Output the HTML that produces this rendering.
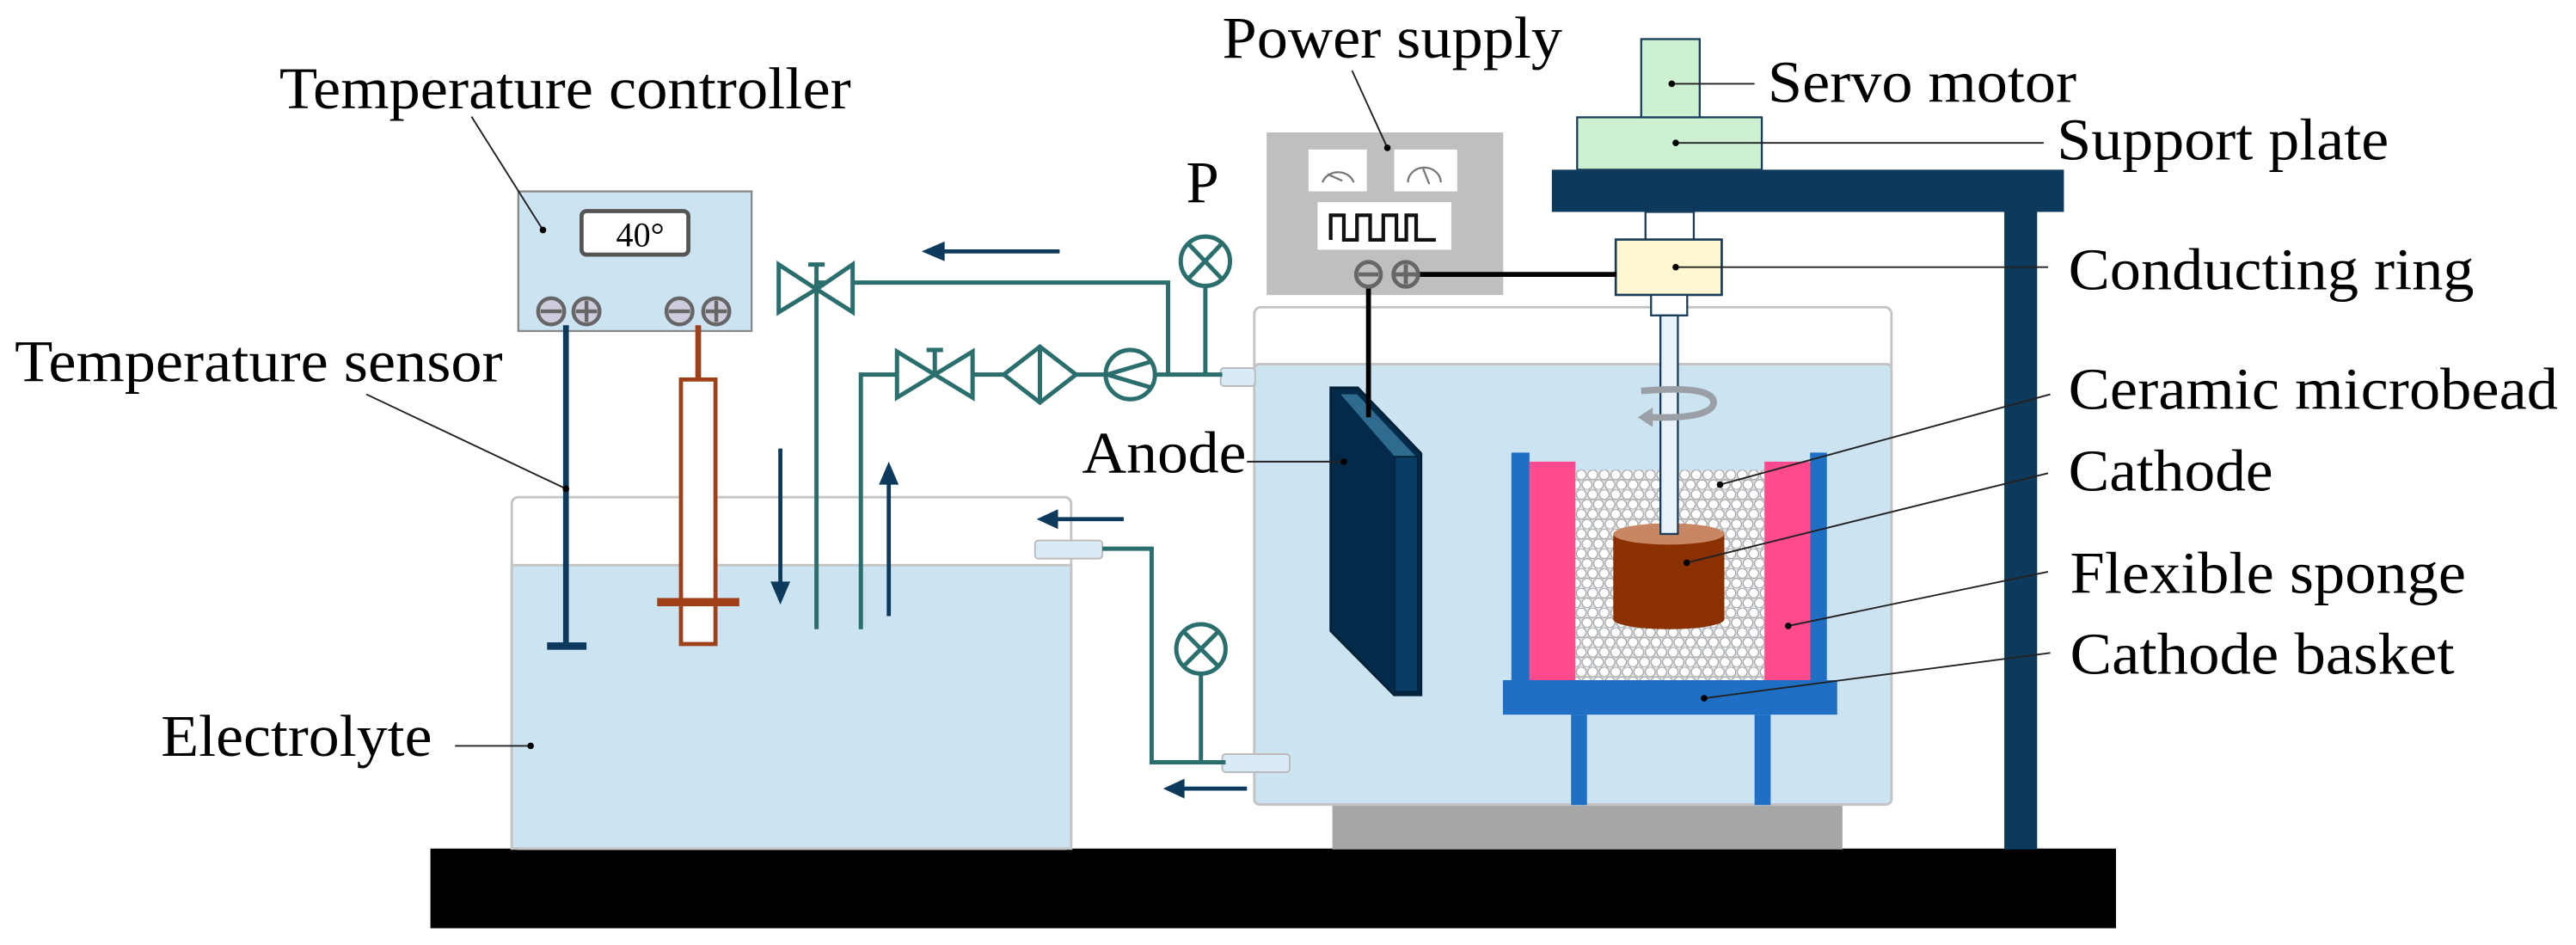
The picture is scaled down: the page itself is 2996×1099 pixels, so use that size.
<!DOCTYPE html>
<html><head><meta charset="utf-8"><style>
html,body{margin:0;padding:0;background:#fff;}
svg{display:block;}
text{font-family:"Liberation Serif",serif;font-size:36px;fill:#000;}
</style></head><body>
<svg width="2996" height="1099" viewBox="0 0 1568 575.2" preserveAspectRatio="none" xmlns="http://www.w3.org/2000/svg">
<defs>
<pattern id="beads" width="7" height="12" patternUnits="userSpaceOnUse" x="959" y="286">
<rect width="7" height="12" fill="#dfe6ec"/>
<circle cx="3.5" cy="3" r="3" fill="#fff" stroke="#a0a0a0" stroke-width="0.6"/>
<circle cx="0" cy="9" r="3" fill="#fff" stroke="#a0a0a0" stroke-width="0.6"/>
<circle cx="7" cy="9" r="3" fill="#fff" stroke="#a0a0a0" stroke-width="0.6"/>
</pattern>
</defs>
<rect x="262" y="516.5" width="1026" height="48.5" fill="#000"/>
<rect x="311.5" y="302.6" width="340.5" height="214" rx="4" fill="#fff" stroke="#c4c4c4" stroke-width="1.5"/>
<rect x="311.5" y="344" width="340.5" height="172.5" fill="#cce3f2" stroke="#c4c4c4" stroke-width="1.5"/>
<rect x="811" y="489" width="310.5" height="28" fill="#a6a6a6"/>
<rect x="763.5" y="187" width="387.8" height="302.7" rx="4" fill="#fff" stroke="#c4c4c4" stroke-width="1.5"/>
<rect x="763.5" y="221.6" width="387.8" height="268" rx="3" fill="#cce3f2" stroke="#c4c4c4" stroke-width="1.5"/>
<rect x="743" y="224" width="21" height="11" rx="2" fill="#d8ebf6" stroke="#bbb" stroke-width="1"/>
<rect x="744" y="459" width="41" height="11" rx="2" fill="#d8ebf6" stroke="#bbb" stroke-width="1"/>
<rect x="630" y="329" width="41" height="11" rx="2" fill="#d8ebf6" stroke="#bbb" stroke-width="1"/>
<rect x="1220" y="120" width="20" height="397" fill="#0d3a5c"/>
<rect x="944.6" y="103.3" width="311.7" height="25.7" fill="#0d3a5c"/>
<rect x="960" y="71.4" width="112.4" height="31.9" fill="#ccf0d0" stroke="#1a3d5c" stroke-width="1.2"/>
<rect x="999" y="23.8" width="35.6" height="47.6" fill="#ccf0d0" stroke="#1a3d5c" stroke-width="1.2"/>
<rect x="1001.6" y="129" width="29.4" height="17" fill="#fff" stroke="#1a3d5c" stroke-width="1.2"/>
<rect x="983.5" y="145.8" width="64.5" height="33.7" fill="#fff6d2" stroke="#1a3d5c" stroke-width="1.4"/>
<rect x="1005" y="179.5" width="22" height="12.5" fill="#fff" stroke="#1a3d5c" stroke-width="1.2"/>
<rect x="771" y="80.6" width="144" height="99" fill="#bfbfbf"/>
<rect x="796.5" y="91" width="35.5" height="25.5" fill="#fff"/>
<rect x="848.7" y="91" width="38.3" height="25.5" fill="#fff"/>
<path d="M805 111 A10 9 0 0 1 824 111 M808 106 L817 110" stroke="#777" stroke-width="1.2" fill="none"/>
<path d="M857 111 A10 9 0 0 1 877 111 M866 102 L870 112" stroke="#777" stroke-width="1.2" fill="none"/>
<rect x="802" y="123" width="81.4" height="29" fill="#fff"/>
<path d="M810 146 V131 H818 V146 H826 V131 H834 V146 H842 V131 H850 V146 H856 V131 H862 V146 H874" stroke="#111" stroke-width="2.2" fill="none"/>
<line x1="862" y1="167" x2="984" y2="167" stroke="#000" stroke-width="3"/>
<line x1="833" y1="170" x2="833" y2="254" stroke="#000" stroke-width="3"/>
<circle cx="833" cy="167" r="7.5" fill="#bfbfbf" stroke="#666" stroke-width="2.5"/>
<line x1="827" y1="167" x2="839" y2="167" stroke="#666" stroke-width="2.5"/>
<circle cx="855.7" cy="167" r="7.5" fill="#bfbfbf" stroke="#666" stroke-width="2.5"/>
<path d="M849.5 167 H862 M855.7 161 V173" stroke="#666" stroke-width="2.5"/>
<polygon points="810,236 826.5,236 865,276 865,423 848.6,423 810,384" fill="#032a48" stroke="#02223a" stroke-width="1.5"/>
<polygon points="816,240 826,240 862,278 849,278" fill="#2f6a8f"/>
<rect x="849" y="278" width="14" height="143" fill="#0a3d66" stroke="#02223a" stroke-width="1"/>
<line x1="833" y1="236" x2="833" y2="254" stroke="#000" stroke-width="3"/>
<rect x="920" y="275.5" width="11" height="140" fill="#1f6fc5"/>
<rect x="1101.8" y="275.5" width="10.2" height="140" fill="#1f6fc5"/>
<rect x="931" y="281" width="28" height="134" fill="#ff4a8d"/>
<rect x="1074" y="281" width="28" height="134" fill="#ff4a8d"/>
<rect x="959" y="286" width="115" height="129" fill="url(#beads)"/>
<rect x="914.8" y="414" width="203.5" height="21" fill="#1f6fc5"/>
<rect x="956.3" y="435" width="9.7" height="55" fill="#1f6fc5"/>
<rect x="1068" y="435" width="9.8" height="55" fill="#1f6fc5"/>
<path d="M982 325 V377 A33.8 6 0 0 0 1049.6 377 V325 Z" fill="#8b3000"/>
<ellipse cx="1015.8" cy="325" rx="33.8" ry="6.5" fill="#c98662"/>
<rect x="1010.7" y="192" width="10.6" height="133" fill="#e8f2f8" stroke="#1a3d5c" stroke-width="1.2"/>
<path d="M999 238 Q1045 234 1043 246 Q1040 255 1005 254" stroke="#9aa0a6" stroke-width="4" fill="none"/>
<polygon points="997,254 1006,248 1006,260" fill="#9aa0a6"/>
<rect x="315.5" y="116.5" width="142" height="85" fill="#cce3f2" stroke="#888" stroke-width="1.2"/>
<rect x="354" y="128.5" width="65" height="26.5" rx="3" fill="#fff" stroke="#555" stroke-width="2.5"/>
<text x="375" y="150" style="font-size:21px">40°</text>
<g stroke="#666" stroke-width="2.3" fill="#ccd">
<circle cx="335.5" cy="189.5" r="8"/><circle cx="357" cy="189.5" r="8"/>
<circle cx="413.6" cy="189.5" r="8"/><circle cx="436" cy="189.5" r="8"/>
</g>
<path d="M329 189.5 H342 M407 189.5 H420 M350.5 189.5 H363.5 M357 183 V196 M429.5 189.5 H442.5 M436 183 V196" stroke="#666" stroke-width="2.3"/>
<line x1="344.5" y1="198" x2="344.5" y2="393" stroke="#0d3a5c" stroke-width="3.5"/>
<rect x="333" y="391" width="24" height="4.5" fill="#0d3a5c"/>
<line x1="425" y1="198" x2="425" y2="231" stroke="#a0401a" stroke-width="3.5"/>
<rect x="414.5" y="231" width="21" height="161" fill="#fff" stroke="#a0401a" stroke-width="2.5"/>
<rect x="400" y="364" width="50" height="5" fill="#a0401a"/>
<g stroke="#0d3a5c" stroke-width="2.5" fill="#0d3a5c">
<line x1="475" y1="273" x2="475" y2="357"/><polygon points="469,354 481,354 475,368" stroke="none"/>
<line x1="541" y1="375" x2="541" y2="292"/><polygon points="535,295 547,295 541,281" stroke="none"/>
<line x1="645" y1="153" x2="572" y2="153"/><polygon points="575,147 575,159 561,153" stroke="none"/>
<line x1="684" y1="316" x2="642" y2="316"/><polygon points="644,310 644,322 631,316" stroke="none"/>
<line x1="759" y1="480" x2="719" y2="480"/><polygon points="721,474 721,486 708,480" stroke="none"/>
</g>
<g stroke="#2a6e6e" stroke-width="2.6" fill="none">
<polyline points="497,383 497,172 711,172 711,228"/>
<polyline points="524,383 524,228 744,228"/>
<line x1="733.7" y1="175" x2="733.7" y2="228"/>
<polyline points="671,334 701,334 701,464 746,464"/>
<line x1="731" y1="411" x2="731" y2="464"/>
</g>
<g stroke="#2a6e6e" stroke-width="2.6" fill="#fff">
<polygon points="474,161 497,176 474,190"/><polygon points="519,161 497,176 519,190"/>
<line x1="497" y1="176" x2="497" y2="161"/><line x1="492" y1="161" x2="502" y2="161"/>
<polygon points="546,214 569,228 546,242"/><polygon points="592,214 569,228 592,242"/>
<line x1="569" y1="228" x2="569" y2="213"/><line x1="564" y1="213" x2="574" y2="213"/>
<polygon points="611,228 633,211 655,228 633,245"/><line x1="633" y1="211" x2="633" y2="245"/>
<circle cx="688" cy="228" r="15"/>
<polyline points="701,220 674,228 701,236" fill="none"/>
<circle cx="733.7" cy="159" r="15"/>
<path d="M723 148 L744 170 M744 148 L723 170"/>
<circle cx="731" cy="395" r="15"/>
<path d="M720.5 384.5 L741.5 405.5 M741.5 384.5 L720.5 405.5"/>
</g>
<text x="722" y="123">P</text>
<g stroke="#222" stroke-width="1">
<line x1="287" y1="71" x2="330.5" y2="140"/>
<line x1="223" y1="240" x2="344.5" y2="297.5"/>
<line x1="277" y1="454" x2="323" y2="454"/>
<line x1="759" y1="281" x2="818" y2="281"/>
<line x1="823" y1="43" x2="844.5" y2="90"/>
<line x1="1017.6" y1="51" x2="1068" y2="51"/>
<line x1="1020" y1="87" x2="1244" y2="87"/>
<line x1="1020" y1="162.6" x2="1246.7" y2="162.6"/>
<line x1="1248" y1="240" x2="1047" y2="295"/>
<line x1="1246.6" y1="288" x2="1026.7" y2="342.5"/>
<line x1="1246.6" y1="348" x2="1088.5" y2="381"/>
<line x1="1248" y1="397.4" x2="1037.3" y2="425"/>
</g>
<g fill="#000">
<circle cx="330.5" cy="140" r="2"/><circle cx="344.5" cy="297.5" r="2"/><circle cx="323" cy="454" r="2"/>
<circle cx="818" cy="281" r="2"/><circle cx="844.5" cy="90" r="2"/><circle cx="1017.6" cy="51" r="2"/>
<circle cx="1020" cy="87" r="2"/><circle cx="1020" cy="162.6" r="2"/><circle cx="1047" cy="295" r="2"/>
<circle cx="1026.7" cy="342.5" r="2"/><circle cx="1088.5" cy="381" r="2"/><circle cx="1037.3" cy="425" r="2"/>
</g>
<text x="170" y="66" textLength="348" lengthAdjust="spacingAndGlyphs">Temperature controller</text>
<text x="9" y="232" textLength="297" lengthAdjust="spacingAndGlyphs">Temperature sensor</text>
<text x="98" y="460" textLength="165" lengthAdjust="spacingAndGlyphs">Electrolyte</text>
<text x="658.6" y="287.5" textLength="100" lengthAdjust="spacingAndGlyphs">Anode</text>
<text x="744" y="35" textLength="207" lengthAdjust="spacingAndGlyphs">Power supply</text>
<text x="1076" y="62" textLength="188" lengthAdjust="spacingAndGlyphs">Servo motor</text>
<text x="1252" y="97" textLength="202" lengthAdjust="spacingAndGlyphs">Support plate</text>
<text x="1259" y="176" textLength="247" lengthAdjust="spacingAndGlyphs">Conducting ring</text>
<text x="1259" y="249" textLength="298" lengthAdjust="spacingAndGlyphs">Ceramic microbead</text>
<text x="1259" y="298.5" textLength="124.6" lengthAdjust="spacingAndGlyphs">Cathode</text>
<text x="1260" y="361" textLength="241" lengthAdjust="spacingAndGlyphs">Flexible sponge</text>
<text x="1260" y="410" textLength="234" lengthAdjust="spacingAndGlyphs">Cathode basket</text>
</svg>
</body></html>
